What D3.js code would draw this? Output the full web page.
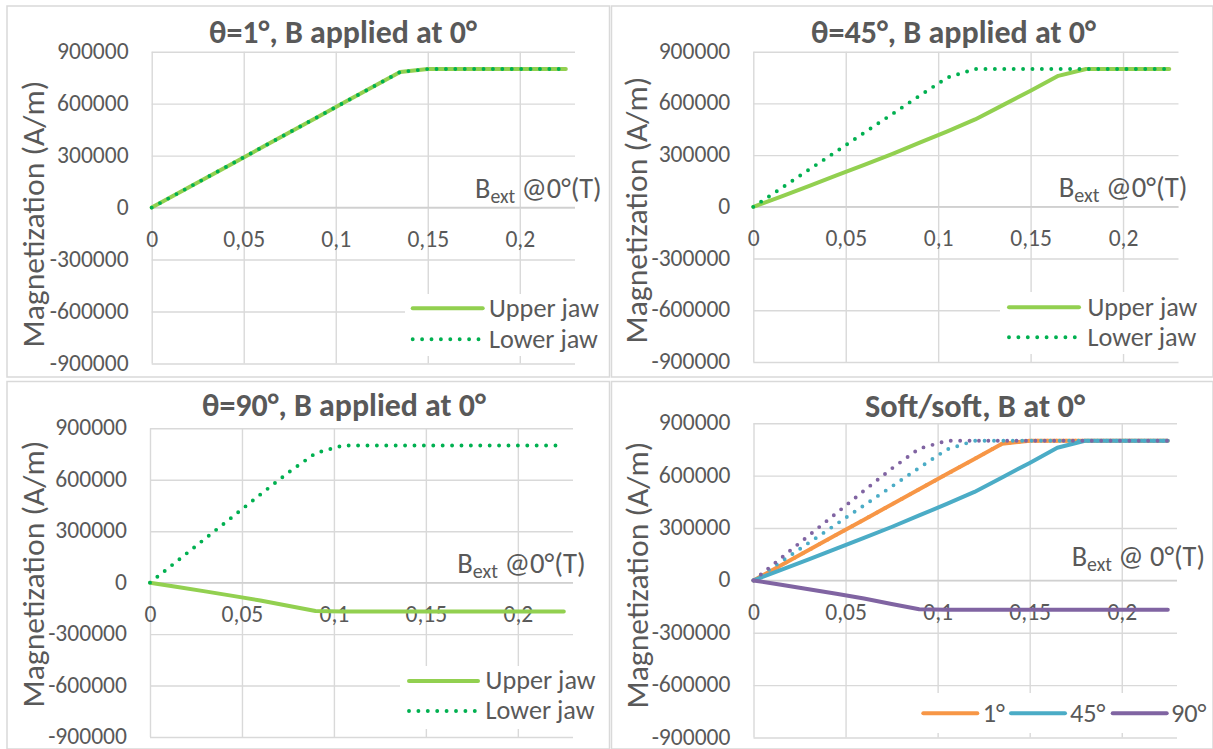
<!DOCTYPE html>
<html>
<head>
<meta charset="utf-8">
<script src="https://cdn.jsdelivr.net/npm/d3@7"></script>
<style>
  html, body { margin: 0; padding: 0; background: #ffffff; }
  svg { display: block; }
</style>
</head>
<body>
<svg id="chart" width="1213" height="749"></svg>
<script>
// ---------------- DATA ----------------
const bField = [0, 0.015, 0.03, 0.045, 0.06, 0.075, 0.09, 0.105, 0.12, 0.135, 0.15, 0.165, 0.18, 0.195, 0.21, 0.225];

const theta1Upper  = [0, 87000, 174000, 261000, 348000, 435000, 522000, 609000, 696000, 783000, 800000, 800000, 800000, 800000, 800000, 800000];
const theta1Lower  = [0, 87000, 174000, 261000, 348000, 435000, 522000, 609000, 696000, 783000, 800000, 800000, 800000, 800000, 800000, 800000];
const theta45Upper = [0, 60000, 120000, 182000, 243000, 306000, 372000, 438000, 507000, 590000, 673000, 760000, 800000, 800000, 800000, 800000];
const theta45Lower = [0, 107000, 215000, 322000, 430000, 537000, 645000, 750000, 800000, 800000, 800000, 800000, 800000, 800000, 800000, 800000];
const theta90Upper = [0, -25000, -51000, -77000, -104000, -135000, -165000, -168000, -168000, -168000, -168000, -168000, -168000, -168000, -168000, -168000];
const theta90Lower = [0, 128000, 257000, 385000, 514000, 640000, 755000, 800000, 800000, 800000, 800000, 800000, 800000, 800000, 800000, 800000];

const yTicks = [-900000, -600000, -300000, 0, 300000, 600000, 900000];
const xTicks = [0, 0.05, 0.1, 0.15, 0.2];
const xTickLabels = ["0", "0,05", "0,1", "0,15", "0,2"];

const panelTitles = ["θ=1°, B applied at 0°", "θ=45°, B applied at 0°", "θ=90°, B applied at 0°", "Soft/soft, B at 0°"];
const jawLabels = ["Upper jaw", "Lower jaw"];
const angleLabels = ["1°", "45°", "90°"];
const yAxisTitle = "Magnetization (A/m)";

// ---------------- STYLE ----------------
const FONT = "Carlito, Calibri, Lato, 'Open Sans', sans-serif";
const TEXT = "#595959";
const GRID = "#D9D9D9";
const C = { lightGreen: "#92D050", darkGreen: "#00B050", orange: "#F79646", teal: "#4BACC6", purple: "#8064A2" };

const svg = d3.select("#chart");

function measure(str, size, weight) {
  const t = svg.append("text").attr("font-family", FONT).attr("font-size", size)
    .attr("font-weight", weight || "normal").text(str);
  const w = t.node().getComputedTextLength();
  t.remove();
  return w;
}
const tickFS = 20 * 71.7 / measure("900000", 20);
const legendFS = 20 * 110 / measure("Upper jaw", 20);

function fit(sel, width) {
  const fs = parseFloat(sel.attr("font-size"));
  const w = sel.node().getComputedTextLength();
  sel.attr("font-size", fs * width / w);
  return sel;
}

// ---------------- LAYOUT ----------------
const panels = [
  { box: [7, 6, 609.5, 377], left: 151.7, right: 575, top: 51.7, bottom: 363.5,
    title: panelTitles[0], titleX: 343, titleY: 43, titleW: 268,
    yTitleX: 44, yTitleY: 214,
    bLabel: ["@0°(T)", 475, 198, 126.7],
    series: [ { v: theta1Upper, c: C.lightGreen, dot: false }, { v: theta1Lower, c: C.darkGreen, dot: true } ],
    legend: { type: "v", bg: [405, 294, 201, 62], sx: 412.7, sw: 70, tx: 489, y: [308.3, 339.3],
              items: [ { l: jawLabels[0], c: C.lightGreen, dot: false }, { l: jawLabels[1], c: C.darkGreen, dot: true } ] } },
  { box: [611.5, 6, 1213, 377], left: 753.3, right: 1178.5, top: 51.7, bottom: 362,
    title: panelTitles[1], titleX: 953.5, titleY: 43, titleW: 285,
    yTitleX: 647, yTitleY: 210,
    bLabel: ["@0°(T)", 1058.7, 197, 128.7],
    series: [ { v: theta45Upper, c: C.lightGreen, dot: false }, { v: theta45Lower, c: C.darkGreen, dot: true } ],
    legend: { type: "v", bg: [1000, 292, 205, 62], sx: 1009, sw: 70, tx: 1087.4, y: [307.3, 337.3],
              items: [ { l: jawLabels[0], c: C.lightGreen, dot: false }, { l: jawLabels[1], c: C.darkGreen, dot: true } ] } },
  { box: [7, 381.5, 609.5, 749], left: 150, right: 573, top: 428.3, bottom: 737,
    title: panelTitles[2], titleX: 344, titleY: 416, titleW: 284,
    yTitleX: 44, yTitleY: 574,
    bLabel: ["@0°(T)", 457.2, 573, 128.4],
    series: [ { v: theta90Upper, c: C.lightGreen, dot: false }, { v: theta90Lower, c: C.darkGreen, dot: true } ],
    legend: { type: "v", bg: [400, 666, 205, 63], sx: 409, sw: 69, tx: 485.6, y: [681, 711],
              items: [ { l: jawLabels[0], c: C.lightGreen, dot: false }, { l: jawLabels[1], c: C.darkGreen, dot: true } ] } },
  { box: [611.5, 381.5, 1213, 749], left: 753.5, right: 1177, top: 423.3, bottom: 737.5,
    title: panelTitles[3], titleX: 975, titleY: 416.7, titleW: 220,
    yTitleX: 648, yTitleY: 575,
    bLabel: ["@ 0°(T)", 1071.7, 566, 133.3],
    series: [ { v: theta1Upper, c: C.orange, dot: false }, { v: theta1Lower, c: C.orange, dot: true },
              { v: theta45Upper, c: C.teal, dot: false }, { v: theta45Lower, c: C.teal, dot: true },
              { v: theta90Upper, c: C.purple, dot: false }, { v: theta90Lower, c: C.purple, dot: true } ],
    legend: { type: "h", bg: [915, 693, 295, 40], y: 713.3, ty: 721.7,
              items: [ { l: angleLabels[0], c: C.orange, sx: 923.3, tx: 982.7 },
                       { l: angleLabels[1], c: C.teal, sx: 1011, tx: 1070 },
                       { l: angleLabels[2], c: C.purple, sx: 1112.7, tx: 1171 } ], sw: 54 } }
];

function styleLine(sel, color, dot) {
  sel.attr("fill", "none").attr("stroke", color);
  if (dot) {
    sel.attr("stroke-width", 3.9).attr("stroke-dasharray", "0 9.4").attr("stroke-linecap", "round");
  } else {
    sel.attr("stroke-width", 4).attr("stroke-linejoin", "round").attr("stroke-linecap", "round");
  }
  return sel;
}

panels.forEach(p => {
  const g = svg.append("g");
  // panel border
  g.append("rect").attr("x", p.box[0]).attr("y", p.box[1])
    .attr("width", p.box[2] - p.box[0]).attr("height", p.box[3] - p.box[1])
    .attr("fill", "#fff").attr("stroke", GRID).attr("stroke-width", 1.5);

  const x = d3.scaleLinear().domain([0, 0.23]).range([p.left, p.right]);
  const y = d3.scaleLinear().domain([-900000, 900000]).range([p.bottom, p.top]);

  // horizontal gridlines + y labels
  const yAxis = g.append("g").attr("transform", `translate(${p.left},0)`)
    .call(d3.axisLeft(y).tickValues(yTicks).tickSize(-(p.right - p.left)).tickPadding(23).tickFormat(d => String(d)));
  yAxis.select(".domain").remove();
  yAxis.selectAll("line").attr("stroke", GRID).attr("stroke-width", 1.4);
  yAxis.selectAll("text").attr("dy", null).attr("y", 6.5)
    .attr("font-family", FONT).attr("font-size", tickFS).attr("fill", TEXT);

  // vertical gridlines
  const xGrid = g.append("g").attr("transform", `translate(0,${p.bottom})`)
    .call(d3.axisBottom(x).tickValues(xTicks).tickSize(-(p.bottom - p.top)).tickFormat(""));
  xGrid.select(".domain").remove();
  xGrid.selectAll("line").attr("stroke", GRID).attr("stroke-width", 1.4);

  // zero axis line
  g.append("line").attr("x1", p.left).attr("x2", p.right).attr("y1", y(0)).attr("y2", y(0))
    .attr("stroke", "#D0D0D0").attr("stroke-width", 1.5);

  // legend background
  const L = p.legend;
  g.append("rect").attr("x", L.bg[0]).attr("y", L.bg[1]).attr("width", L.bg[2]).attr("height", L.bg[3]).attr("fill", "#fff");

  // x tick labels on zero axis
  const xAxis = g.append("g").attr("transform", `translate(0,${y(0)})`)
    .call(d3.axisBottom(x).tickValues(xTicks).tickSize(0).tickFormat((d, i) => xTickLabels[i]));
  xAxis.select(".domain").remove();
  xAxis.selectAll("text").attr("dy", null).attr("y", 39.5)
    .attr("font-family", FONT).attr("font-size", tickFS).attr("fill", TEXT);

  // series
  const line = d3.line().x((d, i) => x(bField[i])).y(d => y(d));
  p.series.forEach(s => {
    styleLine(g.append("path").attr("d", line(s.v)), s.c, s.dot);
  });

  // title
  const t = g.append("text").attr("x", p.titleX).attr("y", p.titleY).attr("text-anchor", "middle")
    .attr("font-family", FONT).attr("font-weight", "bold").attr("font-size", 26).attr("fill", TEXT).text(p.title);
  fit(t, p.titleW);

  // y-axis title
  const yt = g.append("text").attr("text-anchor", "middle")
    .attr("transform", `translate(${p.yTitleX},${p.yTitleY}) rotate(-90)`)
    .attr("font-family", FONT).attr("font-size", 28).attr("fill", TEXT).text(yAxisTitle);
  fit(yt, 267);

  // B_ext label
  const bl = g.append("text").attr("x", p.bLabel[1]).attr("y", p.bLabel[2])
    .attr("font-family", FONT).attr("font-size", tickFS).attr("fill", TEXT);
  bl.append("tspan").text("B");
  bl.append("tspan").attr("font-size", "70%").attr("dy", 5).text("ext");
  bl.append("tspan").attr("dy", -5).text(" " + p.bLabel[0]);
  fit(bl, p.bLabel[3]);

  // legend
  if (L.type === "v") {
    L.items.forEach((it, i) => {
      styleLine(g.append("line").attr("x1", L.sx).attr("x2", L.sx + L.sw).attr("y1", L.y[i]).attr("y2", L.y[i]), it.c, it.dot);
      g.append("text").attr("x", L.tx).attr("y", L.y[i] + 8.4).attr("font-family", FONT)
        .attr("font-size", legendFS).attr("fill", TEXT).text(it.l);
    });
  } else {
    L.items.forEach(it => {
      styleLine(g.append("line").attr("x1", it.sx).attr("x2", it.sx + L.sw).attr("y1", L.y).attr("y2", L.y), it.c, false);
      g.append("text").attr("x", it.tx).attr("y", L.ty).attr("font-family", FONT)
        .attr("font-size", legendFS).attr("fill", TEXT).text(it.l);
    });
  }
});
</script>
</body>
</html>
